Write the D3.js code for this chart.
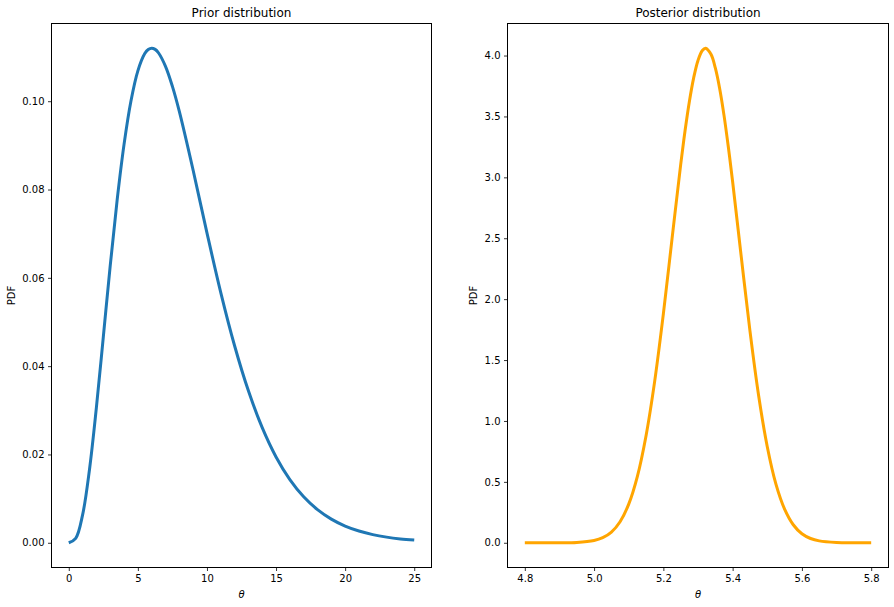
<!DOCTYPE html>
<html><head><meta charset="utf-8">
<script src="https://cdn.jsdelivr.net/npm/d3@7"></script>
<style>
body{margin:0;background:#fff;}
text{font-family:"DejaVu Sans",sans-serif;fill:#000;}
</style></head>
<body><svg id="c" width="894" height="607"></svg>
<script>
// Prior distribution
const priorX = [0,0.5,1,1.5,2,2.5,3,3.5,4,4.5,5,5.5,5.75,6,6.25,6.5,7,7.5,8,9,10,11,12,13,14,15,16,17,18,19,20,21,22,23,24,25];
const priorY = [0,0.00101,0.00632,0.01661,0.03066,0.04663,0.06276,0.07761,0.09022,0.10005,0.10688,0.11079,0.11172,0.11202,0.11174,0.11092,0.10789,0.10335,0.09768,0.08436,0.07019,0.05666,0.04462,0.03441,0.02607,0.01944,0.01431,0.01041,0.00750,0.00535,0.00378,0.00266,0.00185,0.00128,0.00088,0.00061];
// Posterior distribution
const postX = [4.8,4.85,4.9,4.95,5.0,5.025,5.05,5.075,5.1,5.125,5.15,5.175,5.2,5.225,5.25,5.2625,5.275,5.2875,5.3,5.3125,5.322,5.3375,5.35,5.3625,5.375,5.3875,5.4,5.425,5.45,5.475,5.5,5.525,5.55,5.575,5.6,5.625,5.65,5.7,5.75,5.8];
const postY = [0,0,0.0004,0.0032,0.019,0.042,0.088,0.173,0.317,0.545,0.879,1.327,1.879,2.495,3.105,3.380,3.621,3.817,3.960,4.041,4.060,4.010,3.898,3.730,3.511,3.251,2.964,2.345,1.739,1.209,0.788,0.481,0.276,0.148,0.074,0.035,0.0155,0.0025,0.0003,0];
const priorXTicks = [0,5,10,15,20,25];
const priorYTicks = [0.00,0.02,0.04,0.06,0.08,0.10];
const postXTicks = [4.8,5.0,5.2,5.4,5.6,5.8];
const postYTicks = [0.0,0.5,1.0,1.5,2.0,2.5,3.0,3.5,4.0];

const svg = d3.select("#c");
const plotTop = 23.5, plotBottom = 567.5;

function panel(opt){
  const g = svg.append("g");
  const xs = opt.xs, ys = opt.ys;
  const xAxis = d3.axisBottom(xs).tickValues(opt.xt).tickSize(3.5).tickPadding(3.5).tickFormat(opt.xf);
  const yAxis = d3.axisLeft(ys).tickValues(opt.yt).tickSize(3.5).tickPadding(3.5).tickFormat(opt.yf);
  const gx = g.append("g").attr("transform",`translate(0,${plotBottom})`).call(xAxis);
  const gy = g.append("g").attr("transform",`translate(${opt.left},0)`).call(yAxis);
  [gx,gy].forEach(a=>{a.select(".domain").remove();a.selectAll("text").attr("font-size",10).attr("font-family","DejaVu Sans").attr("fill","#262626");a.selectAll("line").attr("stroke","#000").attr("stroke-width",0.8);});
  const line = d3.line().x((d,i)=>xs(opt.x[i])).y(d=>ys(d)).curve(d3.curveCatmullRom.alpha(0.5));
  g.append("path").attr("d",line(opt.y)).attr("fill","none").attr("stroke",opt.color).attr("stroke-width",3).attr("stroke-linejoin","round");
  g.append("rect").attr("x",opt.left).attr("y",plotTop).attr("width",opt.right-opt.left).attr("height",plotBottom-plotTop)
    .attr("fill","none").attr("stroke","#000").attr("stroke-width",1);
  const cx=(opt.left+opt.right)/2;
  g.append("text").attr("x",cx).attr("y",17).attr("text-anchor","middle").attr("font-size",12).text(opt.title);
  g.append("text").attr("x",cx).attr("y",598).attr("text-anchor","middle").attr("font-size",10).attr("font-style","italic").text("θ");
  g.append("text").attr("transform",`translate(${opt.ylx},${(plotTop+plotBottom)/2}) rotate(-90)`).attr("text-anchor","middle").attr("font-size",10).text("PDF");
}

panel({
  left:51.5,right:431.5,
  xs:d3.scaleLinear().domain([-1.25,26.25]).range([51.5,431.5]),
  ys:d3.scaleLinear().domain([-0.0056,0.1176]).range([plotBottom,plotTop]),
  xt:priorXTicks,yt:priorYTicks,xf:d3.format("d"),yf:d3.format(".2f"),
  x:priorX,y:priorY,color:"#1f77b4",title:"Prior distribution",ylx:15
});
panel({
  left:507.5,right:888.5,
  xs:d3.scaleLinear().domain([4.75,5.85]).range([507.5,888.5]),
  ys:d3.scaleLinear().domain([-0.203,4.263]).range([plotBottom,plotTop]),
  xt:postXTicks,yt:postYTicks,xf:d3.format(".1f"),yf:d3.format(".1f"),
  x:postX,y:postY,color:"#ffa500",title:"Posterior distribution",ylx:477
});
</script></body></html>
